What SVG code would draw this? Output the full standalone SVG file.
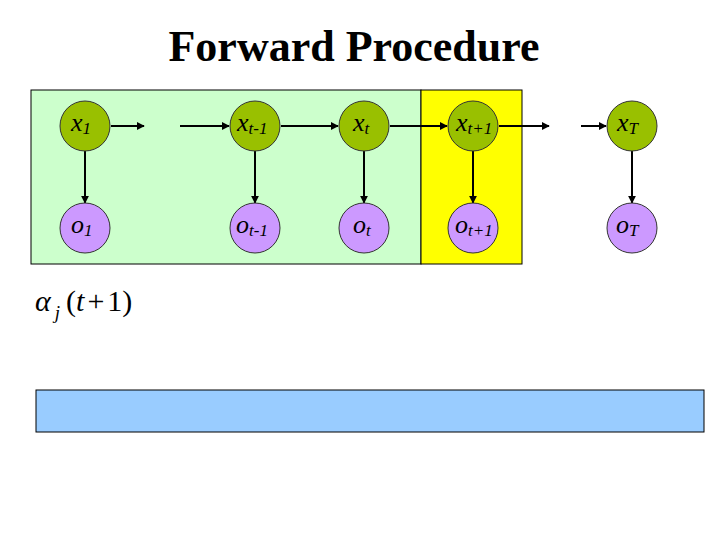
<svg xmlns="http://www.w3.org/2000/svg" width="720" height="540" viewBox="0 0 720 540">
<style>
.xn{fill:#99C000;stroke:#333;stroke-width:1}
.on{fill:#CC99FF;stroke:#333;stroke-width:1}
.lb{font-family:"Liberation Serif","Times New Roman",serif;font-style:italic;font-size:26px;fill:#000}
.sb{font-size:17px}
.cn line{stroke:#000;stroke-width:2;marker-end:url(#ah)}
</style>
<defs>
<marker id="ah" viewBox="0 0 10 10" refX="9" refY="5" markerWidth="4" markerHeight="4" orient="auto" markerUnits="strokeWidth">
<path d="M0,0 L10,5 L0,10 z" fill="#000"/>
</marker>
</defs>
<rect width="720" height="540" fill="#fff"/>
<text x="354" y="61" text-anchor="middle" font-family="Liberation Serif,serif" font-weight="bold" font-size="44">Forward Procedure</text>
<rect x="31" y="90" width="390" height="174" fill="#CCFFCC" stroke="#000" stroke-width="1"/>
<rect x="421" y="90" width="101" height="174" fill="#FFFF00" stroke="#000" stroke-width="1"/>
<g class="cn">
<line x1="111" y1="126" x2="144" y2="126"/>
<line x1="180" y1="126" x2="229" y2="126"/>
<line x1="281" y1="126" x2="338" y2="126"/>
<line x1="390" y1="126" x2="447" y2="126"/>
<line x1="499" y1="126" x2="549" y2="126"/>
<line x1="581" y1="126" x2="606" y2="126"/>
<line x1="85" y1="151" x2="85" y2="203"/>
<line x1="255" y1="151" x2="255" y2="203"/>
<line x1="364" y1="151" x2="364" y2="203"/>
<line x1="473" y1="151" x2="473" y2="203"/>
<line x1="632" y1="151" x2="632" y2="203"/>
</g>
<g id="x1"><circle class="xn" cx="85" cy="126" r="25"/><text class="lb" x="71" y="131">x<tspan class="sb" dy="3">1</tspan></text></g>
<g id="xt-1"><circle class="xn" cx="255" cy="126" r="25"/><text class="lb" x="237" y="131">x<tspan class="sb" dy="3">t-1</tspan></text></g>
<g id="xt"><circle class="xn" cx="364" cy="126" r="25"/><text class="lb" x="353" y="131">x<tspan class="sb" dy="3">t</tspan></text></g>
<g id="xt+1"><circle class="xn" cx="473" cy="126" r="25"/><text class="lb" x="456" y="131">x<tspan class="sb" dy="3">t+1</tspan></text></g>
<g id="xT"><circle class="xn" cx="632" cy="126" r="25"/><text class="lb" x="617" y="131">x<tspan class="sb" dy="3">T</tspan></text></g>
<g id="o1"><circle class="on" cx="85" cy="228" r="25"/><text class="lb" x="71" y="233">o<tspan class="sb" dy="3">1</tspan></text></g>
<g id="ot-1"><circle class="on" cx="255" cy="228" r="25"/><text class="lb" x="236" y="233">o<tspan class="sb" dy="3">t-1</tspan></text></g>
<g id="ot"><circle class="on" cx="364" cy="228" r="25"/><text class="lb" x="353" y="233">o<tspan class="sb" dy="3">t</tspan></text></g>
<g id="ot+1"><circle class="on" cx="473" cy="228" r="25"/><text class="lb" x="455" y="233">o<tspan class="sb" dy="3">t+1</tspan></text></g>
<g id="oT"><circle class="on" cx="632" cy="228" r="25"/><text class="lb" x="616" y="233">o<tspan class="sb" dy="3">T</tspan></text></g>
<text x="35" y="311" font-family="Liberation Serif,serif" font-size="30"><tspan font-style="italic">α</tspan><tspan font-style="italic" font-size="19" dx="4" dy="8">j</tspan><tspan dx="6" dy="-8">(</tspan><tspan font-style="italic">t</tspan><tspan dx="3">+</tspan><tspan dx="3">1)</tspan></text>
<rect x="36" y="390" width="668" height="42" fill="#99CCFF" stroke="#000" stroke-width="1"/>
</svg>
